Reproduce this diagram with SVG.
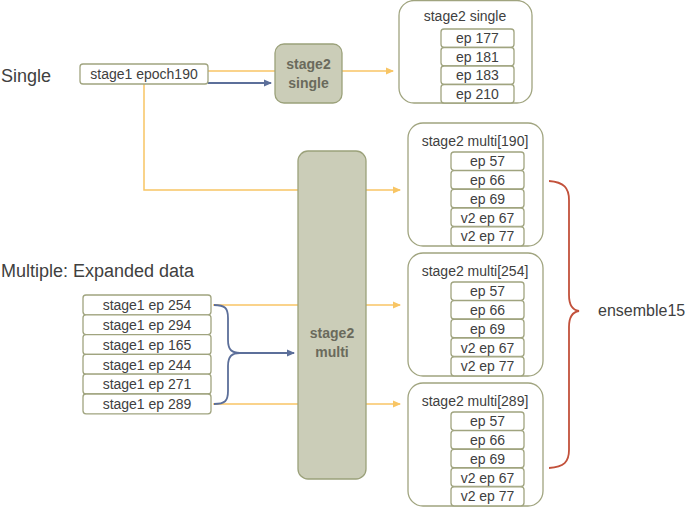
<svg xmlns="http://www.w3.org/2000/svg" width="685" height="507" viewBox="0 0 685 507">
<defs>
<style>
text{font-family:"Liberation Sans","Open Sans",Arial,sans-serif;fill:#404040}
.t{font-size:14px;text-anchor:middle}
.big{font-size:18px}
.box{fill:#fff;stroke:#a0a47f;stroke-width:1.3}
.cont{fill:#fff;stroke:#a0a47f;stroke-width:1.3}
.s2{fill:#cbcdb8;stroke:#9ba17a;stroke-width:1.3}
.s2t{font-size:14px;font-weight:bold;fill:#6a6a5c;text-anchor:middle}
.or{fill:none;stroke:#f8c564;stroke-width:1.5}
.bl{fill:none;stroke:#5c6f9a;stroke-width:1.8}
.rd{fill:none;stroke:#c2513b;stroke-width:1.8}
</style>
<marker id="ao" markerWidth="8" markerHeight="8" refX="7" refY="4" orient="auto" markerUnits="userSpaceOnUse"><path d="M0,0.5 L8,4 L0,7.5z" fill="#f8c564"/></marker>
<marker id="ab" markerWidth="8" markerHeight="8" refX="7" refY="4" orient="auto" markerUnits="userSpaceOnUse"><path d="M0,0.5 L8,4 L0,7.5z" fill="#5c6f9a"/></marker>
</defs>
<rect width="685" height="507" fill="#fff"/>
<text x="1" y="82" class="big">Single</text>
<text x="1" y="277" class="big">Multiple: Expanded data</text>

<g id="connectors">
<path class="or" d="M208,71 H275"/>
<path class="or" d="M342,71 H393" marker-end="url(#ao)"/>
<path class="bl" d="M208,83 H271" marker-end="url(#ab)"/>
<path class="or" d="M144,84 V190 H298"/>
<path class="or" d="M366,190 H400" marker-end="url(#ao)"/>
<path class="or" d="M366,305 H400" marker-end="url(#ao)"/>
<path class="or" d="M366,404 H400" marker-end="url(#ao)"/>
<path class="or" d="M213,305 H298"/>
<path class="or" d="M213,404 H298"/>
<path class="bl" d="M214,305 C225,305 228,308 228,318 L228,340 C228,350 232,353 240,353 M214,404 C225,404 228,401 228,391 L228,366 C228,356 232,353 240,353 L294,353" marker-end="url(#ab)"/>
<path class="rd" d="M549,181 C564,182 569,188 569,200 L569,295 C569,305 572,310 579,311 C572,312 569,317 569,327 L569,450 C569,462 564,467 549,468"/>
</g>

<g id="stage1-epoch190">
<rect class="box" x="80" y="64" width="128" height="20" rx="3"/>
<text class="t" x="144" y="79">stage1 epoch190</text>
</g>

<g id="stage2-single-node">
<rect class="s2" x="275" y="44" width="67" height="59" rx="9"/>
<text class="s2t" x="308.5" y="69">stage2</text>
<text class="s2t" x="308.5" y="88">single</text>
</g>

<g id="stage2-multi-node">
<rect class="s2" x="298" y="151" width="68" height="328" rx="10"/>
<text class="s2t" x="332" y="338">stage2</text>
<text class="s2t" x="332" y="357">multi</text>
</g>

<g id="stage1-list">
<rect class="box" x="83" y="295" width="128" height="19.8" rx="3"/>
<text class="t" x="147" y="310">stage1 ep 254</text>
<rect class="box" x="83" y="314.8" width="128" height="19.8" rx="3"/>
<text class="t" x="147" y="330">stage1 ep 294</text>
<rect class="box" x="83" y="334.6" width="128" height="19.8" rx="3"/>
<text class="t" x="147" y="349.5">stage1 ep 165</text>
<rect class="box" x="83" y="354.4" width="128" height="19.8" rx="3"/>
<text class="t" x="147" y="369.5">stage1 ep 244</text>
<rect class="box" x="83" y="374.2" width="128" height="19.8" rx="3"/>
<text class="t" x="147" y="389">stage1 ep 271</text>
<rect class="box" x="83" y="394" width="128" height="19.8" rx="3"/>
<text class="t" x="147" y="409">stage1 ep 289</text>
</g>

<g id="stage2-single-results">
<rect class="cont" x="399" y="0.5" width="133" height="102.5" rx="15"/>
<text class="t" x="465" y="21">stage2 single</text>
<rect class="box" x="441" y="29" width="73" height="18.3" rx="3"/>
<text class="t" x="477.5" y="43">ep 177</text>
<rect class="box" x="441" y="47.5" width="73" height="18.3" rx="3"/>
<text class="t" x="477.5" y="61.5">ep 181</text>
<rect class="box" x="441" y="66" width="73" height="18.3" rx="3"/>
<text class="t" x="477.5" y="80">ep 183</text>
<rect class="box" x="441" y="84.5" width="73" height="18.5" rx="3"/>
<text class="t" x="477.5" y="98.5">ep 210</text>
</g>

<g id="stage2-multi-190" transform="translate(0,0)">
<rect class="cont" x="408" y="123" width="135" height="123" rx="15"/>
<text class="t" x="475" y="146">stage2 multi[190]</text>
<rect class="box" x="451" y="152" width="73" height="18.3" rx="3"/>
<text class="t" x="487.5" y="166">ep 57</text>
<rect class="box" x="451" y="170.7" width="73" height="18.3" rx="3"/>
<text class="t" x="487.5" y="185">ep 66</text>
<rect class="box" x="451" y="189.4" width="73" height="18.3" rx="3"/>
<text class="t" x="487.5" y="203.5">ep 69</text>
<rect class="box" x="451" y="208.1" width="73" height="18.3" rx="3"/>
<text class="t" x="487.5" y="222.5">v2 ep 67</text>
<rect class="box" x="451" y="226.8" width="73" height="19" rx="3"/>
<text class="t" x="487.5" y="241">v2 ep 77</text>
</g>

<g id="stage2-multi-254" transform="translate(0,130)">
<rect class="cont" x="408" y="123" width="135" height="123" rx="15"/>
<text class="t" x="475" y="146">stage2 multi[254]</text>
<rect class="box" x="451" y="152" width="73" height="18.3" rx="3"/>
<text class="t" x="487.5" y="166">ep 57</text>
<rect class="box" x="451" y="170.7" width="73" height="18.3" rx="3"/>
<text class="t" x="487.5" y="185">ep 66</text>
<rect class="box" x="451" y="189.4" width="73" height="18.3" rx="3"/>
<text class="t" x="487.5" y="203.5">ep 69</text>
<rect class="box" x="451" y="208.1" width="73" height="18.3" rx="3"/>
<text class="t" x="487.5" y="222.5">v2 ep 67</text>
<rect class="box" x="451" y="226.8" width="73" height="19" rx="3"/>
<text class="t" x="487.5" y="241">v2 ep 77</text>
</g>

<g id="stage2-multi-289" transform="translate(0,260)">
<rect class="cont" x="408" y="123" width="135" height="123" rx="15"/>
<text class="t" x="475" y="146">stage2 multi[289]</text>
<rect class="box" x="451" y="152" width="73" height="18.3" rx="3"/>
<text class="t" x="487.5" y="166">ep 57</text>
<rect class="box" x="451" y="170.7" width="73" height="18.3" rx="3"/>
<text class="t" x="487.5" y="185">ep 66</text>
<rect class="box" x="451" y="189.4" width="73" height="18.3" rx="3"/>
<text class="t" x="487.5" y="203.5">ep 69</text>
<rect class="box" x="451" y="208.1" width="73" height="18.3" rx="3"/>
<text class="t" x="487.5" y="222.5">v2 ep 67</text>
<rect class="box" x="451" y="226.8" width="73" height="19" rx="3"/>
<text class="t" x="487.5" y="241">v2 ep 77</text>
</g>

<g id="ensemble15">
<text x="598" y="316" style="font-size:16px">ensemble15</text>
</g>
</svg>
